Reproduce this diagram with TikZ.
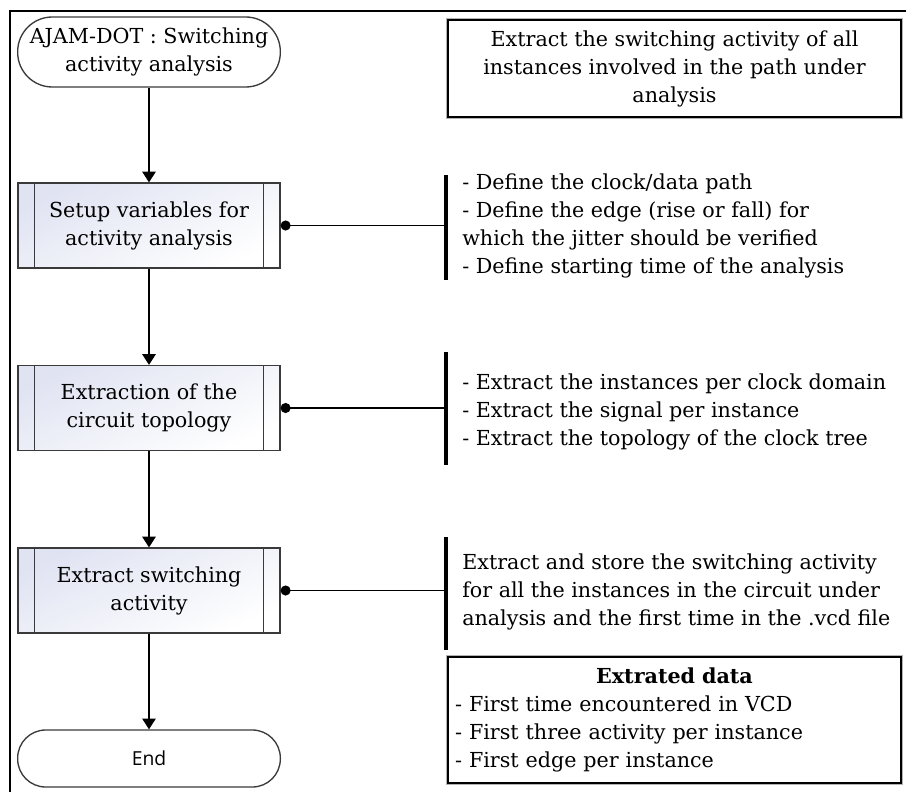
\documentclass[tikz,border=0pt]{standalone}
\usepackage{fontspec}
\setmainfont{DejaVu Serif}
\newfontfamily\endfont{Open Sans}
\usetikzlibrary{arrows.meta}
\definecolor{boxtop}{HTML}{E0E3F2}
\definecolor{edge}{HTML}{3A3A3A}
\tikzset{
  txt/.style={font=\fontsize{15.5}{21}\selectfont},
  term/.style={draw=edge, line width=1pt, fill=white, minimum width=197pt,
               inner sep=0pt, align=center, txt},
  proc/.style={draw=edge, line width=0.9pt, top color=boxtop, bottom color=white,
               shading angle=25, minimum width=196.5pt, minimum height=63.75pt,
               inner sep=0pt, align=center, txt},
  flow/.style={line width=1.1pt, -{Triangle[width=10pt,length=8pt]}},
  link/.style={line width=1.1pt, {Circle[length=7.5pt]}-},
  bracket/.style={line width=2.3pt},
  note/.style={anchor=west, align=left, inner sep=0pt, txt},
  panel/.style={draw=black, line width=1.8pt, fill=white,
                preaction={draw=black!30, line width=3.6pt},
                minimum width=339.75pt, inner sep=0pt, txt},
  divider/.style={draw=edge, line width=0.9pt}
}
\begin{document}
\begin{tikzpicture}[x=0.75pt, y=-0.75pt]
\useasboundingbox (0,0) rectangle (906,792);

% frame around the sheet
\draw[line width=1pt] (10,792) -- (10,11) -- (906,11);

% main flow
\node[term, minimum height=52.5pt, rounded corners=26pt] (start) at (149,52)
  {AJAM-DOT : Switching\\activity analysis};
\node[proc] (setup) at (149,225.5) {Setup variables for\\activity analysis};
\node[proc] (topo) at (149,408) {Extraction of the\\circuit topology};
\node[proc] (swact) at (149,590.5) {Extract switching\\activity};
\node[term, minimum height=42.75pt, rounded corners=21pt,
      font=\endfont\fontsize{14.5}{18}\selectfont] (end) at (149,758.5) {End};

% side bars of the predefined-process boxes
\foreach \n in {setup,topo,swact}{
  \draw[divider] ([xshift=12.75pt]\n.north west) -- ([xshift=12.75pt]\n.south west);
  \draw[divider] ([xshift=-12.75pt]\n.north east) -- ([xshift=-12.75pt]\n.south east);
}

\draw[flow] (start.south) -- (setup.north);
\draw[flow] (setup.south) -- (topo.north);
\draw[flow] (topo.south) -- (swact.north);
\draw[flow] (swact.south) -- (end.north);

% annotation brackets
\coordinate (b1t) at (446,175); \coordinate (b1b) at (446,280);
\coordinate (b2t) at (446,352); \coordinate (b2b) at (446,465);
\coordinate (b3t) at (446,537); \coordinate (b3b) at (446,650);
\draw[bracket] (b1t) -- (b1b);
\draw[bracket] (b2t) -- (b2b);
\draw[bracket] (b3t) -- (b3b);

\draw[link] (setup.east) -- (setup.east -| b1t);
\draw[link] (topo.east) -- (topo.east -| b2t);
\draw[link] (swact.east) -- (swact.east -| b3t);

\node[note] (n1) at (462,226)
  {- Define the clock/data path\\- Define the edge (rise or fall) for\\which the jitter should be verified\\- Define starting time of the analysis};
\node[note] (n2) at (462,412)
  {- Extract the instances per clock domain\\- Extract the signal per instance\\- Extract the topology of the clock tree};
\node[note] (n3) at (462,592)
  {Extract and store the switching activity\\for all the instances in the circuit under\\analysis and the first time in the .vcd file};

% summary panels
\node[panel, minimum height=72.75pt, align=center] (goal) at (674.5,68.5)
  {Extract the switching activity of all\\instances involved in the path under\\analysis};
\node[panel, minimum height=94.5pt, text width=329pt, inner xsep=5.4pt] (data) at (674.5,720)
  {{\centering\bfseries Extrated data\par}\raggedright
   - First time encountered in VCD\\- First three activity per instance\\- First edge per instance};
\end{tikzpicture}
\end{document}
